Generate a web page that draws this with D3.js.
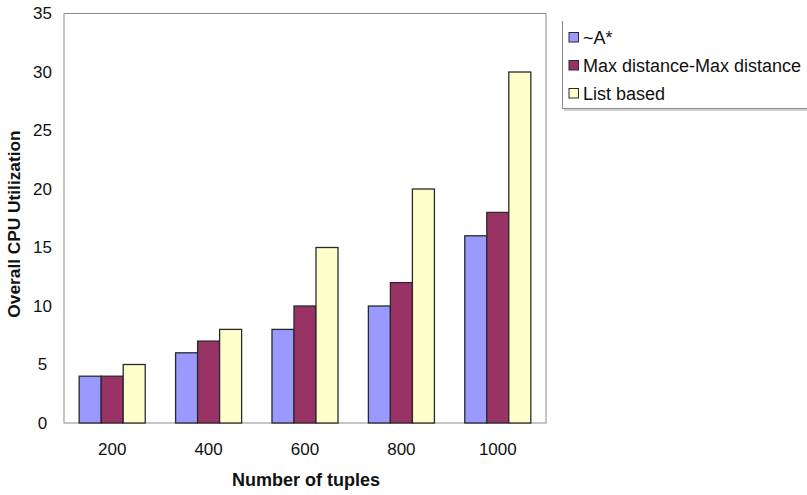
<!DOCTYPE html>
<html>
<head>
<meta charset="utf-8">
<script src="https://cdnjs.cloudflare.com/ajax/libs/d3/7.8.5/d3.min.js"></script>
<style>
  body { margin: 0; background: #fff; }
  svg text { font-family: "Liberation Sans", Arial, sans-serif; fill: #111; }
</style>
</head>
<body>
<div id="chart"></div>
<script>
var categories = ["200", "400", "600", "800", "1000"];
var seriesNames = ["~A*", "Max distance-Max distance", "List based"];
var aStar = [4, 6, 8, 10, 16];
var maxDist = [4, 7, 10, 12, 18];
var listBased = [5, 8, 15, 20, 30];
var yTicks = [0, 5, 10, 15, 20, 25, 30, 35];
var colors = ["#9999ff", "#993366", "#ffffcc"];

var W = 807, H = 495;
var plot = { left: 64, right: 546, top: 13.5, bottom: 423 };

var svg = d3.select("#chart").append("svg")
    .attr("width", W)
    .attr("height", H);

var x = d3.scaleBand()
    .domain(categories)
    .range([plot.left, plot.right])
    .paddingInner(0.315)
    .paddingOuter(0.1575);

var x1 = d3.scaleBand()
    .domain(d3.range(seriesNames.length))
    .range([0, x.bandwidth()]);

var y = d3.scaleLinear()
    .domain([0, 35])
    .range([plot.bottom, plot.top]);

// plot frame
svg.append("rect")
    .attr("x", plot.left)
    .attr("y", plot.top)
    .attr("width", plot.right - plot.left)
    .attr("height", plot.bottom - plot.top)
    .attr("fill", "#fff")
    .attr("stroke", "#8c8c8c")
    .attr("stroke-width", 1);

var table = categories.map(function(c, i) {
    return { cat: c, values: [aStar[i], maxDist[i], listBased[i]] };
});

var groups = svg.selectAll(".grp")
    .data(table)
    .enter().append("g")
    .attr("class", "grp")
    .attr("transform", function(d) { return "translate(" + x(d.cat) + ",0)"; });

groups.selectAll("rect")
    .data(function(d) { return d.values; })
    .enter().append("rect")
    .attr("x", function(d, i) { return x1(i); })
    .attr("y", function(d) { return y(d); })
    .attr("width", x1.bandwidth())
    .attr("height", function(d) { return y(0) - y(d); })
    .attr("fill", function(d, i) { return colors[i]; })
    .attr("stroke", "#2a2a2a")
    .attr("stroke-width", 1.3);

// y axis labels (centered like the original)
var yAxis = svg.append("g");
yAxis.selectAll("text")
    .data(yTicks)
    .enter().append("text")
    .attr("x", 42.5)
    .attr("y", function(d) { return y(d); })
    .attr("dy", "0.35em")
    .attr("text-anchor", "middle")
    .style("font-size", "17px")
    .text(function(d) { return d; });

// x axis labels
var xAxis = d3.axisBottom(x).tickSize(0).tickPadding(20);
var gx = svg.append("g")
    .attr("transform", "translate(0," + plot.bottom + ")")
    .call(xAxis);
gx.select(".domain").remove();
gx.selectAll("text")
    .style("font-size", "17px")
    .style("font-family", "Liberation Sans, Arial, sans-serif")
    .attr("fill", "#111");

// axis titles
svg.append("text")
    .attr("transform", "translate(20," + 224 + ") rotate(-90)")
    .attr("text-anchor", "middle")
    .style("font-size", "17.3px")
    .style("font-weight", "bold")
    .text("Overall CPU Utilization");

svg.append("text")
    .attr("x", 306)
    .attr("y", 486)
    .attr("text-anchor", "middle")
    .style("font-size", "18px")
    .style("font-weight", "bold")
    .text("Number of tuples");

// legend
var legend = svg.append("g");
legend.append("line")
    .attr("x1", 562.5).attr("x2", 562.5)
    .attr("y1", 21).attr("y2", 108)
    .attr("stroke", "#8c8c8c");
legend.append("line")
    .attr("x1", 562).attr("x2", W)
    .attr("y1", 108.5).attr("y2", 108.5)
    .attr("stroke", "#8c8c8c");
legend.append("line")
    .attr("x1", 564).attr("x2", W)
    .attr("y1", 110).attr("y2", 110)
    .attr("stroke", "#cfcfcf")
    .attr("stroke-width", 2);

var items = legend.selectAll(".item")
    .data(seriesNames)
    .enter().append("g")
    .attr("class", "item")
    .attr("transform", function(d, i) { return "translate(568," + (37.5 + i * 28) + ")"; });

items.append("rect")
    .attr("x", 1)
    .attr("y", -5)
    .attr("width", 9.5)
    .attr("height", 9.5)
    .attr("fill", function(d, i) { return colors[i]; })
    .attr("stroke", "#2a2a2a")
    .attr("stroke-width", 1);

items.append("text")
    .attr("x", 15)
    .attr("y", 0)
    .attr("dy", "0.35em")
    .style("font-size", "18px")
    .text(function(d) { return d; });
</script>
</body>
</html>
